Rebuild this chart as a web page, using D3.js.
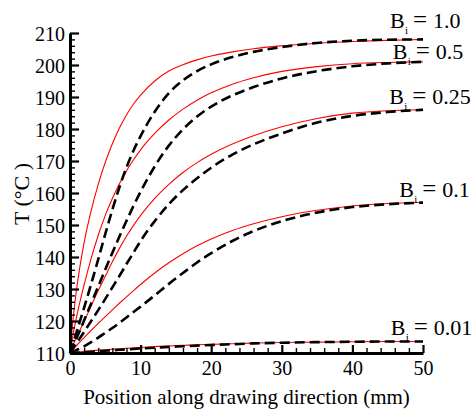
<!DOCTYPE html>
<html>
<head>
<meta charset="utf-8">
<script src="https://cdn.jsdelivr.net/npm/d3@7"></script>
<style>
  html, body { margin: 0; padding: 0; background: #fff; }
  svg { display: block; }
  text { font-family: "Liberation Serif", "Times New Roman", serif; fill: #000; }
</style>
</head>
<body>
<svg id="chart" width="475" height="410"></svg>
<script>
// Position along the drawing direction (mm) at which each profile is sampled
const positions = [0, 0.5, 1, 2, 3, 4, 5, 6, 7, 8, 9, 10, 12, 14, 16, 18, 20, 23, 26, 30, 35, 40, 45, 50];

// Biot numbers of the five cases
const biotLabels = ["1.0", "0.5", "0.25", "0.1", "0.01"];

// Temperature (°C), full solution (red solid)
const exactBi100 = [110, 122, 131, 144.5, 154.5, 162.7, 169.6, 175.4, 180.3, 184.4, 187.8, 190.6, 195.0, 198.1, 200.1, 201.6, 202.8, 204.1, 205.1, 206.0, 206.8, 207.35, 207.7, 208];
const exactBi050 = [110, 116.5, 122, 131.3, 139.6, 146.8, 153, 158.3, 162.9, 166.9, 170.4, 173.5, 178.6, 182.8, 186.2, 189, 191.3, 194, 196, 198, 199.5, 200.4, 200.8, 201];
const exactBi025 = [110, 112.8, 115.2, 119.9, 124.7, 129.5, 134, 138.5, 142.7, 146.5, 149.9, 153, 158.3, 162.7, 166.4, 169.5, 172.1, 175.3, 177.9, 180.7, 183.3, 184.95, 185.7, 186];
const exactBi010 = [110, 111.3, 112.5, 114.8, 117.05, 119.25, 121.4, 123.5, 125.55, 127.55, 129.5, 131.4, 135, 138.2, 141.04, 143.5, 145.65, 148.3, 150.4, 152.6, 154.6, 155.95, 156.7, 157.1];
const exactBi001 = [110, 110.2, 110.3, 110.5, 110.7, 110.9, 111.0, 111.2, 111.3, 111.5, 111.6, 111.7, 112.0, 112.2, 112.4, 112.6, 112.7, 112.9, 113.1, 113.3, 113.4, 113.5, 113.6, 113.6];

// Temperature (°C), approximate solution (black dashed)
const approxBi100 = [110, 113.5, 117, 124.2, 131.6, 139.3, 147.2, 154.8, 161.8, 168, 173.3, 177.8, 185.4, 191.2, 195.2, 198.1, 200.2, 202.5, 204.1, 205.6, 206.9, 207.6, 207.9, 208];
const approxBi050 = [110, 112.5, 115, 120.2, 125.5, 130.8, 136.1, 141.3, 146.4, 151.3, 156, 160.4, 168.3, 174.8, 179.9, 183.9, 187, 190.5, 193.1, 195.8, 198.1, 199.6, 200.5, 201];
const approxBi025 = [110, 111.65, 113.3, 116.6, 120, 123.4, 126.9, 130.5, 134.1, 137.8, 141.4, 145, 151.2, 156.5, 160.9, 164.6, 167.9, 172, 175.2, 178.6, 182, 184.1, 185.3, 186];
const approxBi010 = [110, 110.5, 111, 112.1, 113.4, 114.8, 116.3, 117.8, 119.4, 121.1, 122.8, 124.5, 128, 131.6, 135, 138.3, 141.2, 145, 148.1, 151.2, 153.9, 155.6, 156.5, 157];
const approxBi001 = [110, 110.05, 110.1, 110.25, 110.4, 110.55, 110.7, 110.85, 111.0, 111.1, 111.25, 111.4, 111.65, 111.9, 112.1, 112.3, 112.5, 112.75, 113.0, 113.2, 113.4, 113.5, 113.6, 113.6];

// Axis ticks
const xMajorTicks = [0, 10, 20, 30, 40, 50];
const yMajorTicks = [110, 120, 130, 140, 150, 160, 170, 180, 190, 200, 210];

const exactSeries = [exactBi100, exactBi050, exactBi025, exactBi010, exactBi001];
const approxSeries = [approxBi100, approxBi050, approxBi025, approxBi010, approxBi001];

// Layout
const SERIF = '"Liberation Serif", "Times New Roman", serif';
const margin = { left: 70, top: 33, right: 52, bottom: 57 };
const W = 475, H = 410;
const svg = d3.select("#chart");

const x = d3.scaleLinear().domain([0, 50]).range([margin.left, W - margin.right]);
const y = d3.scaleLinear().domain([110, 210]).range([H - margin.bottom, margin.top]);

const line = vals => d3.line()
  .x((d, i) => x(positions[i]))
  .y(d => y(d))
  .curve(d3.curveMonotoneX)(vals);

// Curves: solid red first, dashed black on top
svg.append("g").selectAll("path").data(exactSeries).join("path")
  .attr("d", line)
  .attr("fill", "none")
  .attr("stroke", "#ff0000")
  .attr("stroke-width", 1.1);

svg.append("g").selectAll("path").data(approxSeries).join("path")
  .attr("d", line)
  .attr("fill", "none")
  .attr("stroke", "#000")
  .attr("stroke-width", 2.6)
  .attr("stroke-dasharray", "10,5");

// Minor ticks (every 2 units), pointing into the plot
const xMinor = d3.range(0, 50.01, 2).filter(v => v % 10 !== 0);
const yMinor = d3.range(110, 210.01, 2).filter(v => v % 10 !== 0);

svg.append("g")
  .attr("transform", `translate(0,${y(110)})`)
  .call(d3.axisBottom(x).tickValues(xMinor).tickSize(-5).tickFormat("").tickSizeOuter(0))
  .call(g => g.select(".domain").remove())
  .call(g => g.selectAll("line").attr("stroke-width", 1.4));

svg.append("g")
  .attr("transform", `translate(${x(0)},0)`)
  .call(d3.axisLeft(y).tickValues(yMinor).tickSize(-5).tickFormat("").tickSizeOuter(0))
  .call(g => g.select(".domain").remove())
  .call(g => g.selectAll("line").attr("stroke-width", 1.4));

// Major axes
const xAxis = svg.append("g")
  .attr("transform", `translate(0,${y(110)})`)
  .call(d3.axisBottom(x).tickValues(xMajorTicks).tickSize(-8).tickSizeOuter(0).tickPadding(8).tickFormat(d3.format("d")));
xAxis.select(".domain").attr("stroke-width", 3);
xAxis.selectAll(".tick line").attr("stroke-width", 2.2);
xAxis.selectAll(".tick text")
  .style("font-family", SERIF)
  .style("font-size", "20px")
  .attr("dy", "0.72em");

const yAxis = svg.append("g")
  .attr("transform", `translate(${x(0)},0)`)
  .call(d3.axisLeft(y).tickValues(yMajorTicks).tickSize(-9).tickSizeOuter(0).tickPadding(5).tickFormat(d3.format("d")));
yAxis.select(".domain").attr("stroke-width", 3);
yAxis.selectAll(".tick line").attr("stroke-width", 2.2);
yAxis.selectAll(".tick text")
  .style("font-family", SERIF)
  .style("font-size", "20px")
  .attr("dy", "0.35em");

// Axis titles
svg.append("text")
  .attr("x", 246.5)
  .attr("y", 404)
  .attr("text-anchor", "middle")
  .style("font-family", SERIF)
  .style("font-size", "21px")
  .text("Position along drawing direction (mm)");

svg.append("text")
  .attr("transform", "translate(28.5,194) rotate(-90)")
  .attr("text-anchor", "middle")
  .style("font-family", SERIF)
  .style("font-size", "22px")
  .text("T (°C )");

// Biot number labels near the curve ends
const labelX = [390, 392.7, 389.3, 399.3, 390.7];
const labelDy = [-11.5, -2.8, -5.8, -4.9, -6.5];
biotLabels.forEach((b, k) => {
  const vals = exactSeries[k];
  const x0 = labelX[k];
  const t = svg.append("text")
    .attr("x", x0)
    .attr("y", y(vals[vals.length - 1]) + labelDy[k])
    .style("font-family", SERIF)
    .style("font-size", "22px");
  t.append("tspan").text("B");
  t.append("tspan").attr("x", x0 + 15).attr("dy", 6).style("font-size", "11px").text("i");
  t.append("tspan").attr("x", x0 + 23).attr("dy", -6).style("font-size", "25px").text("=");
  t.append("tspan").attr("x", x0 + 43).text(b);
});
</script>
</body>
</html>
